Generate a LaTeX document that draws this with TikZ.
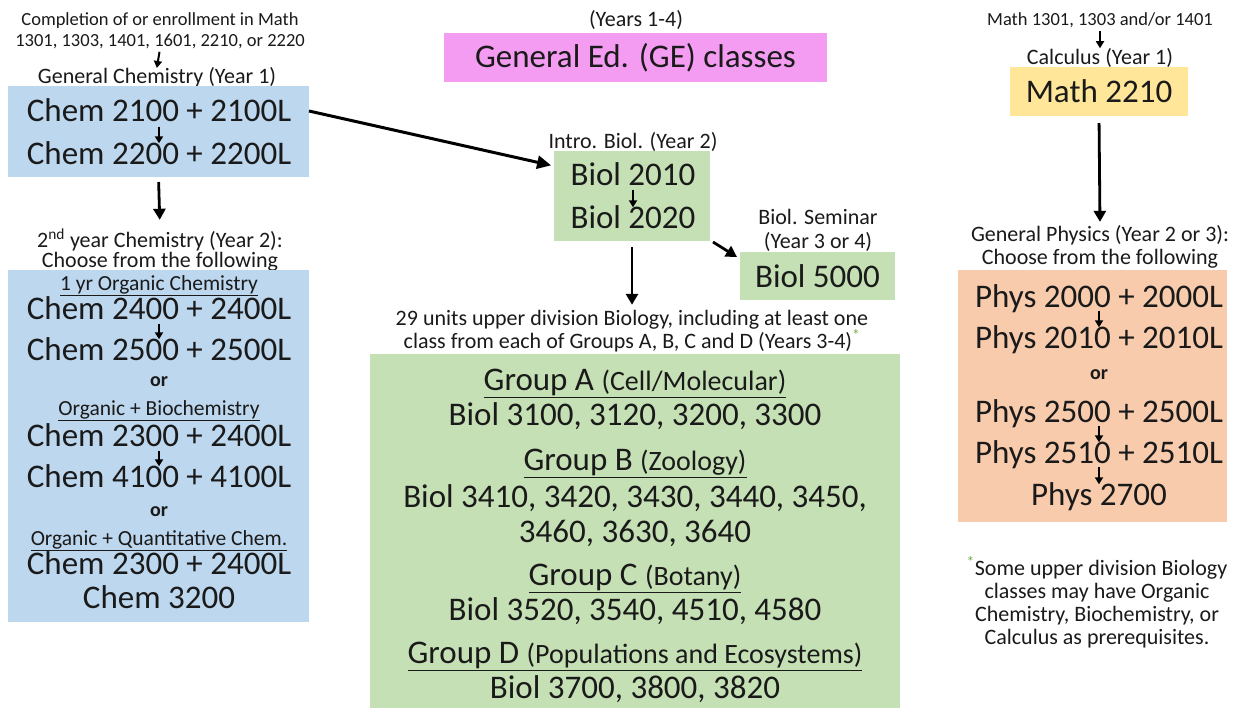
\documentclass[tikz,border=0pt]{standalone}
\usepackage{fontspec}
\setmainfont{Carlito}
\usetikzlibrary{arrows.meta}
\definecolor{chemblue}{HTML}{BDD7EE}
\definecolor{biogreen}{HTML}{C5E0B4}
\definecolor{gepink}{HTML}{F49CF2}
\definecolor{calcyellow}{HTML}{FFE699}
\definecolor{physorange}{HTML}{F8CBAD}
\definecolor{stargreen}{HTML}{70AD47}
\definecolor{inktext}{HTML}{1A1A1A}
\newcommand\fbig{\fontsize{33}{40}\selectfont}
\newcommand\fpar{\fontsize{28}{34}\selectfont}
\newcommand\fsub{\fontsize{21.5}{24}\selectfont}
\newcommand\fsmallbold{\bfseries\fontsize{20}{22}\selectfont}
\begin{document}
\begin{tikzpicture}[x=1pt,y=-1pt,
  every node/.style={text=inktext},
  box/.style={draw=none, inner sep=0pt, outer sep=0pt},
  big/.style={inner sep=0pt, text height=21pt, text depth=0pt, font=\fbig},
  sub/.style={inner sep=0pt, text height=14pt, text depth=0pt, font=\fsub},
  orlab/.style={inner sep=0pt, text height=9pt, text depth=0pt, font=\fsmallbold},
  lab/.style={inner sep=0pt, align=center},
  sarr/.style={draw=black, line width=2pt, -{Triangle[width=8pt,length=7pt]}},
  barr/.style={draw=black, line width=2.8pt, -{Triangle[width=12pt,length=11pt]}}]
\useasboundingbox[fill=white] (0,0) rectangle (1236,710);

% ---------------- left column: chemistry ----------------
\node[lab, font=\fontsize{18.5}{21}\selectfont] (pre1) at (160,30.5)
  {Completion of or enrollment in Math\\1301, 1303, 1401, 1601, 2210, or 2220};
\node[lab, font=\fontsize{22}{24}\selectfont] (gclab) at (157,77) {General Chemistry (Year 1)};
\node[box, fill=chemblue, minimum width=301pt, minimum height=91pt] (chemA) at (158.5,131.5) {};
\node[big] (c1) at (159,111) {Chem 2100 + 2100L};
\node[big] (c2) at (159,154) {Chem 2200 + 2200L};
\node[lab, font=\fontsize{22}{20}\selectfont] (y2lab) at (160,250)
  {2\textsuperscript{nd} year Chemistry (Year 2):\\Choose from the following};
\node[box, fill=chemblue, minimum width=301pt, minimum height=352pt] (chemB) at (158.5,446) {};
\node[sub] (o1h) at (159,283) {\underline{1 yr Organic Chemistry}};
\node[big] (o1a) at (159,309) {Chem 2400 + 2400L};
\node[big] (o1b) at (159,350) {Chem 2500 + 2500L};
\node[orlab] (or1) at (159,382) {or};
\node[sub] (o2h) at (159,408) {\underline{Organic + Biochemistry}};
\node[big] (o2a) at (159,436) {Chem 2300 + 2400L};
\node[big] (o2b) at (159,477) {Chem 4100 + 4100L};
\node[orlab] (or2) at (159,512) {or};
\node[sub] (o3h) at (159,538) {\underline{Organic + Quantitative Chem.}};
\node[big] (o3a) at (159,564) {Chem 2300 + 2400L};
\node[big] (o3b) at (159,598) {Chem 3200};

\draw[sarr, shorten <=3pt, shorten >=-1pt] (pre1.south) -- (gclab.north);
\draw[sarr, shorten <=5pt, shorten >=0pt] (c1.south) -- (c2.north);
\draw[barr, shorten <=5pt, shorten >=9pt] (chemA.south) -- (y2lab.north);
\draw[sarr, shorten <=4pt, shorten >=0pt] (o1a.south) -- (o1b.north);
\draw[sarr, shorten <=4pt, shorten >=0pt] (o2a.south) -- (o2b.north);

% ---------------- middle column: biology ----------------
\node[lab, font=\fontsize{22}{24}\selectfont] (yrs) at (636,20) {(Years 1-4)};
\node[box, fill=gepink, minimum width=383pt, minimum height=49pt, font=\fbig] (ge) at (635.5,57.5) {General Ed. (GE) classes};

\node[lab, font=\fontsize{22}{24}\selectfont] (introlab) at (633,142) {Intro. Biol. (Year 2)};
\node[box, fill=biogreen, minimum width=156pt, minimum height=90pt] (bioA) at (632,196) {};
\node[big] (b1) at (633,175) {Biol 2010};
\node[big] (b2) at (633,218) {Biol 2020};
\draw[sarr, shorten <=4pt, shorten >=0pt] (b1.south) -- (b2.north);

\node[lab, font=\fontsize{22}{24}\selectfont] (semlab) at (818,230) {Biol. Seminar\\(Year 3 or 4)};
\node[box, fill=biogreen, minimum width=155pt, minimum height=48pt, font=\fbig] (b5) at (817.5,276) {Biol 5000};

\draw[barr, line width=3pt, -{Triangle[width=13pt,length=14pt]}, shorten >=3pt]
  (c1.east -| chemA.east) -- ([yshift=-15pt]bioA.north west);
\draw[barr] ([shift={(3,1)}]bioA.south east) -- ([shift={(-3,5)}]b5.north west);

\node[lab, font=\fontsize{22}{22}\selectfont] (uplab) at (632,331)
  {29 units upper division Biology, including at least one\\class from each of Groups A, B, C and D (Years 3-4)\textcolor{stargreen}{\textsuperscript{*}}};
\draw[barr, shorten <=6pt, shorten >=5pt] (bioA.south) -- (uplab.north);

\node[box, fill=biogreen, minimum width=530pt, minimum height=354pt] (grp) at (635,531) {};
\node[big] (gA) at (635,380) {\underline{Group A {\fpar(Cell/Molecular)}}};
\node[big] (gA2) at (635,415) {Biol 3100, 3120, 3200, 3300};
\node[big] (gB) at (635,460) {\underline{Group B {\fpar(Zoology)}}};
\node[big] (gB2) at (635,497) {Biol 3410, 3420, 3430, 3440, 3450,};
\node[big] (gB3) at (635,532) {3460, 3630, 3640};
\node[big] (gC) at (635,575) {\underline{Group C {\fpar(Botany)}}};
\node[big] (gC2) at (635,610) {Biol 3520, 3540, 4510, 4580};
\node[big] (gD) at (635,653) {\underline{Group D {\fpar(Populations and Ecosystems)}}};
\node[big] (gD2) at (635,688) {Biol 3700, 3800, 3820};

% ---------------- right column: math / physics ----------------
\node[lab, font=\fontsize{18.5}{21}\selectfont] (mpre) at (1100,20) {Math 1301, 1303 and/or 1401};
\node[lab, font=\fontsize{22}{24}\selectfont] (calclab) at (1100,58) {Calculus (Year 1)};
\draw[sarr, shorten <=3pt, shorten >=0pt] (mpre.south) -- (calclab.north);
\node[box, fill=calcyellow, minimum width=178pt, minimum height=49pt, font=\fbig] (math) at (1099,91.5) {Math 2210};

\node[lab, font=\fontsize{22}{23}\selectfont] (physlab) at (1100,246.5)
  {General Physics (Year 2 or 3):\\Choose from the following};
\draw[barr, shorten <=7pt, shorten >=3pt] (math.south) -- (physlab.north);

\node[box, fill=physorange, minimum width=269pt, minimum height=252pt] (phys) at (1092.5,396) {};
\node[big] (p1) at (1099,297) {Phys 2000 + 2000L};
\node[big] (p2) at (1099,338) {Phys 2010 + 2010L};
\node[orlab] (orp) at (1099,375) {or};
\node[big] (p3) at (1099,412) {Phys 2500 + 2500L};
\node[big] (p4) at (1099,453) {Phys 2510 + 2510L};
\node[big] (p5) at (1099,495) {Phys 2700};
\draw[sarr, shorten <=3pt, shorten >=0pt] (p1.south) -- (p2.north);
\draw[sarr, shorten <=3pt, shorten >=0pt] (p3.south) -- (p4.north);
\draw[sarr, shorten <=3pt, shorten >=0pt] (p4.south) -- (p5.north);

\node[lab, font=\fontsize{22}{23}\selectfont] (foot) at (1097,602.5)
  {\textcolor{stargreen}{\textsuperscript{*}}Some upper division Biology\\classes may have Organic\\Chemistry, Biochemistry, or\\Calculus as prerequisites.};
\end{tikzpicture}
\end{document}
